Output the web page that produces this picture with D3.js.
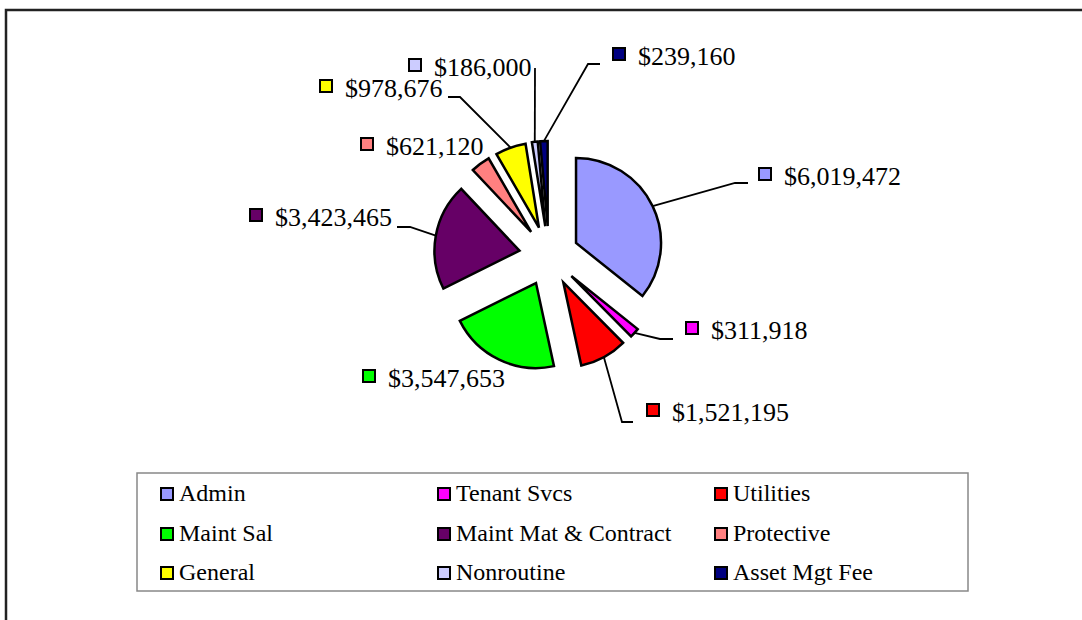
<!DOCTYPE html>
<html>
<head>
<meta charset="utf-8">
<script src="https://cdn.jsdelivr.net/npm/d3@7"></script>
<style>
  html, body { margin: 0; padding: 0; background: #fff; }
  svg { display: block; }
</style>
</head>
<body>
<svg id="chart" width="1082" height="620"></svg>
<script>
// ---- data ----
const categories = ["Admin", "Tenant Svcs", "Utilities", "Maint Sal", "Maint Mat & Contract",
                    "Protective", "General", "Nonroutine", "Asset Mgt Fee"];
const values = [6019472, 311918, 1521195, 3547653, 3423465, 621120, 978676, 186000, 239160];
const colors = ["#9999FF", "#FF00FF", "#FF0000", "#00FF00", "#660066",
                "#FF8080", "#FFFF00", "#CCCCFF", "#000080"];

// ---- layout (label placement, Excel-style) ----
const labelSquares = [[759,168],[686,322],[647,404],[363,370],[250,209],[361,138],[320,80],[409,59],[613,48]];
const leaderKnees = [
  [[735,183],[748,183]],
  [[660,339],[673,339]],
  [[622,422],[633,422]],
  [],
  [[410,227],[397,227]],
  [],
  [[460,97],[448,97]],
  [[535,68]],
  [[588,64],[600,64]]
];

const FONT = "'Liberation Serif', 'Times New Roman', serif";
const svg = d3.select("#chart");
const fmt = v => "$" + d3.format(",")(v);

// outer frame
svg.append("rect").attr("x", 6).attr("y", 10).attr("width", 1100).attr("height", 700)
  .attr("fill", "none").attr("stroke", "#222").attr("stroke-width", 2.5);

const cx = 549, cy = 256, R = 85, explode = 30;
const pie = d3.pie().sort(null).value(d => d)(values);
const arc = d3.arc().innerRadius(0).outerRadius(R);

const g = svg.append("g").attr("transform", `translate(${cx},${cy})`);

pie.forEach((p, i) => {
  const mid = (p.startAngle + p.endAngle) / 2;
  const ox = explode * Math.sin(mid), oy = -explode * Math.cos(mid);
  g.append("path")
    .attr("d", arc(p))
    .attr("transform", `translate(${ox},${oy})`)
    .attr("fill", colors[i])
    .attr("stroke", "#000")
    .attr("stroke-width", 2.5)
    .attr("stroke-linejoin", "miter");

  const knees = leaderKnees[i];
  if (knees.length) {
    const sx = cx + ox + R * Math.sin(mid), sy = cy + oy - R * Math.cos(mid);
    const pts = [[sx, sy]].concat(knees);
    svg.append("path")
      .attr("d", d3.line()(pts))
      .attr("fill", "none").attr("stroke", "#000").attr("stroke-width", 1.8);
  }

  const [qx, qy] = labelSquares[i];
  svg.append("rect").attr("x", qx).attr("y", qy).attr("width", 12).attr("height", 12)
    .attr("fill", colors[i]).attr("stroke", "#000").attr("stroke-width", 2);
  svg.append("text").attr("x", qx + 25).attr("y", qy + 17)
    .attr("font-family", FONT).attr("font-size", 26).attr("fill", "#000")
    .text(fmt(values[i]));
});

// legend
const lg = svg.append("g");
lg.append("rect").attr("x", 137).attr("y", 473).attr("width", 831).attr("height", 118)
  .attr("fill", "none").attr("stroke", "#888").attr("stroke-width", 1.5);
const colX = [161, 438, 715];
const rowY = [488, 528, 567];
categories.forEach((c, i) => {
  const x = colX[i % 3], y = rowY[Math.floor(i / 3)];
  lg.append("rect").attr("x", x).attr("y", y).attr("width", 12).attr("height", 12)
    .attr("fill", colors[i]).attr("stroke", "#000").attr("stroke-width", 2);
  lg.append("text").attr("x", x + 18).attr("y", y + 13)
    .attr("font-family", FONT).attr("font-size", 24).attr("fill", "#000")
    .text(c);
});
</script>
</body>
</html>
